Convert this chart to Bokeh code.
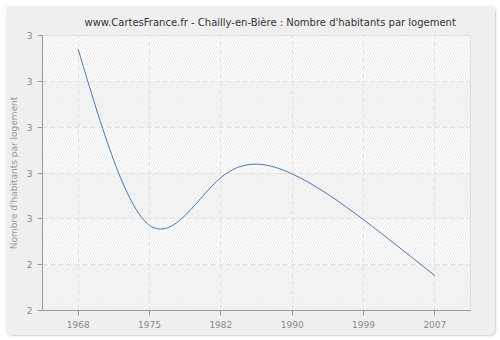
import numpy as np
from bokeh.plotting import figure
from bokeh.models import ColumnDataSource, FixedTicker, Range1d
from bokeh.embed import file_html
from bokeh.resources import INLINE

# ---- data ----
years = ["1968", "1975", "1982", "1990", "1999", "2007"]
values = [2.735, 2.543, 2.595, 2.599, 2.549, 2.488]
y_ticks = [2.45, 2.50, 2.55, 2.60, 2.65, 2.70, 2.75]
y_tick_labels = ["2", "2", "3", "3", "3", "3", "3"]
title = "www.CartesFrance.fr - Chailly-en-Bière : Nombre d'habitants par logement"
y_label = "Nombre d'habitants par logement"

FONT = "DejaVu Sans"

xs = np.arange(len(years), dtype=float)
ys = np.array(values, dtype=float)

# natural cubic spline derivatives (unit spacing) -> bezier segments
n = len(ys)
A = np.zeros((n, n)); b = np.zeros(n)
A[0, 0] = 1; A[-1, -1] = 1
for i in range(1, n - 1):
    A[i, i - 1] = 1; A[i, i] = 4; A[i, i + 1] = 1
    b[i] = 6 * (ys[i + 1] - 2 * ys[i] + ys[i - 1])
M = np.linalg.solve(A, b)
seg = dict(x0=[], y0=[], x1=[], y1=[], cx0=[], cy0=[], cx1=[], cy1=[])
for i in range(n - 1):
    d = ys[i + 1] - ys[i]
    mL = d - (2 * M[i] + M[i + 1]) / 6
    mR = d + (M[i] + 2 * M[i + 1]) / 6
    seg["x0"].append(xs[i]); seg["y0"].append(ys[i])
    seg["x1"].append(xs[i + 1]); seg["y1"].append(ys[i + 1])
    seg["cx0"].append(xs[i] + 1 / 3); seg["cy0"].append(ys[i] + mL / 3)
    seg["cx1"].append(xs[i + 1] - 1 / 3); seg["cy1"].append(ys[i + 1] - mR / 3)

p = figure(width=490, height=330, margin=(5, 5, 5, 5),
           output_backend="svg", toolbar_location=None,
           x_range=Range1d(-0.5, len(years) - 0.5),
           y_range=Range1d(y_ticks[0], y_ticks[-1]),
           min_border_left=35, min_border_right=25,
           min_border_top=30, min_border_bottom=25,
           border_fill_color="#efefef", background_fill_color="#ffffff",
           outline_line_color="#d6d6d6",
           styles={"border-radius": "6px", "overflow": "hidden",
                   "box-shadow": "1px 1px 2px #cccccc"})

p.title.text = title
p.title.align = "left"
p.title.text_font = FONT
p.title.text_font_size = "10px"
p.title.text_font_style = "normal"
p.title.text_color = "#333333"
p.title.offset = 42
p.title.standoff = 16

# alternating bands with hatch
band_bottom = y_ticks[:-1]
band_top = y_ticks[1:]
band_fill = ["#f7f7f7" if i % 2 == 0 else "#ffffff" for i in range(len(band_bottom))]
bands = p.quad(left=-0.5, right=len(years) - 0.5, bottom=band_bottom, top=band_top,
               fill_color=band_fill, line_color=None,
               hatch_pattern="/", hatch_color="#e9e9e9", hatch_scale=5, hatch_weight=1)
bands.level = "image"

p.bezier(source=ColumnDataSource(seg), x0="x0", y0="y0", x1="x1", y1="y1",
         cx0="cx0", cy0="cy0", cx1="cx1", cy1="cy1",
         line_color="#4a78b5", line_width=1)

# axes
p.xaxis.ticker = FixedTicker(ticks=list(xs))
p.xaxis.major_label_overrides = {i: y for i, y in enumerate(years)}
p.yaxis.ticker = FixedTicker(ticks=y_ticks)
p.yaxis.major_label_overrides = {t: l for t, l in zip(y_ticks, y_tick_labels)}
p.yaxis.axis_label = y_label

for ax in (p.xaxis[0], p.yaxis[0]):
    ax.axis_line_color = "#999999"
    ax.major_tick_line_color = "#999999"
    ax.major_tick_in = 0
    ax.major_tick_out = 5
    ax.minor_tick_line_color = None
    ax.major_label_text_font = FONT
    ax.major_label_text_font_size = "9px"
    ax.major_label_text_color = "#888888"
    ax.major_label_standoff = 5
p.yaxis.axis_label_text_font = FONT
p.yaxis.axis_label_text_font_size = "9px"
p.yaxis.axis_label_text_font_style = "normal"
p.yaxis.axis_label_text_color = "#999999"
p.yaxis.axis_label_standoff = 5

for g in (p.xgrid[0], p.ygrid[0]):
    g.grid_line_color = "#e2e2e2"
    g.grid_line_dash = "5 3"
    g.grid_line_width = 1

open("out.html", "w").write(file_html(p, INLINE))
